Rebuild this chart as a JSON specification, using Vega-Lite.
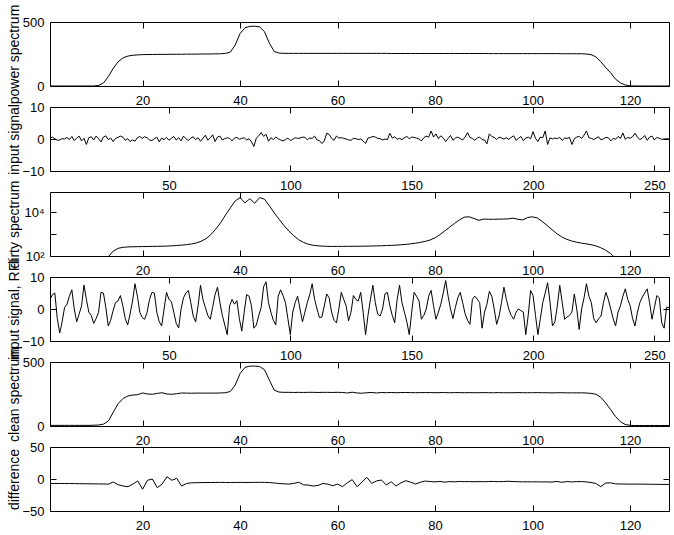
{
  "$schema": "https://vega.github.io/schema/vega-lite/v6.json",
  "padding": {"left": 6, "top": 3, "right": 0, "bottom": 0},
  "spacing": 21,
  "bounds": "flush",
  "datasets": {
    "p1": [{"x":1,"y":0},{"x":2,"y":0},{"x":3,"y":0},{"x":4,"y":0},{"x":5,"y":0},{"x":6,"y":0},{"x":7,"y":0},{"x":8,"y":0},{"x":9,"y":0},{"x":10,"y":0},{"x":11,"y":5},{"x":12,"y":25},{"x":13,"y":75},{"x":14,"y":140},{"x":15,"y":190},{"x":16,"y":220},{"x":17,"y":234},{"x":18,"y":240},{"x":19,"y":243},{"x":20,"y":245},{"x":21,"y":246},{"x":22,"y":246},{"x":23,"y":247},{"x":24,"y":247},{"x":25,"y":247},{"x":26,"y":248},{"x":27,"y":248},{"x":28,"y":248},{"x":29,"y":249},{"x":30,"y":249},{"x":31,"y":249},{"x":32,"y":250},{"x":33,"y":250},{"x":34,"y":250},{"x":35,"y":251},{"x":36,"y":252},{"x":37,"y":255},{"x":38,"y":265},{"x":39,"y":320},{"x":40,"y":410},{"x":41,"y":455},{"x":42,"y":466},{"x":43,"y":467},{"x":44,"y":462},{"x":45,"y":425},{"x":46,"y":335},{"x":47,"y":270},{"x":48,"y":257},{"x":49,"y":255},{"x":50,"y":255},{"x":51,"y":255},{"x":52,"y":255},{"x":53,"y":255},{"x":54,"y":255},{"x":55,"y":255},{"x":56,"y":255},{"x":57,"y":255},{"x":58,"y":255},{"x":59,"y":255},{"x":60,"y":255},{"x":61,"y":255},{"x":62,"y":255},{"x":63,"y":255},{"x":64,"y":255},{"x":65,"y":255},{"x":66,"y":255},{"x":67,"y":255},{"x":68,"y":255},{"x":69,"y":255},{"x":70,"y":255},{"x":71,"y":254},{"x":72,"y":254},{"x":73,"y":254},{"x":74,"y":254},{"x":75,"y":254},{"x":76,"y":254},{"x":77,"y":254},{"x":78,"y":254},{"x":79,"y":254},{"x":80,"y":254},{"x":81,"y":254},{"x":82,"y":254},{"x":83,"y":254},{"x":84,"y":254},{"x":85,"y":254},{"x":86,"y":254},{"x":87,"y":254},{"x":88,"y":254},{"x":89,"y":254},{"x":90,"y":254},{"x":91,"y":253},{"x":92,"y":253},{"x":93,"y":253},{"x":94,"y":253},{"x":95,"y":253},{"x":96,"y":253},{"x":97,"y":253},{"x":98,"y":253},{"x":99,"y":253},{"x":100,"y":253},{"x":101,"y":253},{"x":102,"y":253},{"x":103,"y":253},{"x":104,"y":253},{"x":105,"y":253},{"x":106,"y":252},{"x":107,"y":252},{"x":108,"y":252},{"x":109,"y":252},{"x":110,"y":252},{"x":111,"y":250},{"x":112,"y":245},{"x":113,"y":228},{"x":114,"y":190},{"x":115,"y":145},{"x":116,"y":104},{"x":117,"y":55},{"x":118,"y":25},{"x":119,"y":8},{"x":120,"y":1},{"x":121,"y":0},{"x":122,"y":0},{"x":123,"y":0},{"x":124,"y":0},{"x":125,"y":0},{"x":126,"y":0},{"x":127,"y":0},{"x":128,"y":0}],
    "p2": [{"x":1,"y":0.2},{"x":2,"y":0.6},{"x":3,"y":0.1},{"x":4,"y":-0.4},{"x":5,"y":-0.3},{"x":6,"y":0.1},{"x":7,"y":0},{"x":8,"y":0.5},{"x":9,"y":-0.2},{"x":10,"y":0.8},{"x":11,"y":-0.5},{"x":12,"y":0.3},{"x":13,"y":0.9},{"x":14,"y":-0.6},{"x":15,"y":0.2},{"x":16,"y":-1.7},{"x":17,"y":0.4},{"x":18,"y":0.7},{"x":19,"y":-0.3},{"x":20,"y":0.9},{"x":21,"y":0.1},{"x":22,"y":-0.9},{"x":23,"y":0.6},{"x":24,"y":1},{"x":25,"y":-0.2},{"x":26,"y":0.3},{"x":27,"y":-0.8},{"x":28,"y":0.2},{"x":29,"y":0.5},{"x":30,"y":0.9},{"x":31,"y":0.6},{"x":32,"y":-0.4},{"x":33,"y":0.1},{"x":34,"y":-0.8},{"x":35,"y":-0.3},{"x":36,"y":-0.7},{"x":37,"y":0.4},{"x":38,"y":0.8},{"x":39,"y":0.2},{"x":40,"y":0.7},{"x":41,"y":0.4},{"x":42,"y":-0.3},{"x":43,"y":-0.5},{"x":44,"y":0.1},{"x":45,"y":0.6},{"x":46,"y":-0.9},{"x":47,"y":0.3},{"x":48,"y":-0.2},{"x":49,"y":0.5},{"x":50,"y":-0.4},{"x":51,"y":0.2},{"x":52,"y":0.8},{"x":53,"y":-0.3},{"x":54,"y":0.4},{"x":55,"y":-0.6},{"x":56,"y":0.9},{"x":57,"y":0.1},{"x":58,"y":-0.5},{"x":59,"y":0.3},{"x":60,"y":0.7},{"x":61,"y":-0.2},{"x":62,"y":0.4},{"x":63,"y":-0.7},{"x":64,"y":0.2},{"x":65,"y":1.2},{"x":66,"y":-0.4},{"x":67,"y":0.3},{"x":68,"y":1.3},{"x":69,"y":-0.8},{"x":70,"y":0.6},{"x":71,"y":0.9},{"x":72,"y":-0.3},{"x":73,"y":0.1},{"x":74,"y":0.4},{"x":75,"y":0.2},{"x":76,"y":-0.6},{"x":77,"y":0.3},{"x":78,"y":0.5},{"x":79,"y":-0.1},{"x":80,"y":0.2},{"x":81,"y":0.4},{"x":82,"y":-0.3},{"x":83,"y":0.1},{"x":84,"y":-0.9},{"x":85,"y":-2.3},{"x":86,"y":0.3},{"x":87,"y":1},{"x":88,"y":2},{"x":89,"y":0.8},{"x":90,"y":1.5},{"x":91,"y":-0.7},{"x":92,"y":0.4},{"x":93,"y":-0.2},{"x":94,"y":0.6},{"x":95,"y":0.1},{"x":96,"y":-0.3},{"x":97,"y":-0.6},{"x":98,"y":-0.2},{"x":99,"y":0.3},{"x":100,"y":-0.5},{"x":101,"y":-0.1},{"x":102,"y":0.4},{"x":103,"y":0.2},{"x":104,"y":0.3},{"x":105,"y":0.6},{"x":106,"y":0.5},{"x":107,"y":-0.2},{"x":108,"y":0.3},{"x":109,"y":0.2},{"x":110,"y":0.9},{"x":111,"y":-0.3},{"x":112,"y":-0.5},{"x":113,"y":-1.4},{"x":114,"y":-0.6},{"x":115,"y":1.8},{"x":116,"y":1.4},{"x":117,"y":0.2},{"x":118,"y":-0.4},{"x":119,"y":0.9},{"x":120,"y":0.3},{"x":121,"y":0.4},{"x":122,"y":0.2},{"x":123,"y":0},{"x":124,"y":-0.3},{"x":125,"y":-0.4},{"x":126,"y":0.2},{"x":127,"y":0.1},{"x":128,"y":-0.2},{"x":129,"y":0},{"x":130,"y":-0.6},{"x":131,"y":-1.4},{"x":132,"y":0.3},{"x":133,"y":0.5},{"x":134,"y":0.8},{"x":135,"y":0.6},{"x":136,"y":0.2},{"x":137,"y":0.1},{"x":138,"y":-0.3},{"x":139,"y":0},{"x":140,"y":-0.2},{"x":141,"y":1.8},{"x":142,"y":0.3},{"x":143,"y":0.7},{"x":144,"y":-0.1},{"x":145,"y":0.2},{"x":146,"y":-0.2},{"x":147,"y":0.4},{"x":148,"y":0.8},{"x":149,"y":0.1},{"x":150,"y":0.6},{"x":151,"y":0.5},{"x":152,"y":0.3},{"x":153,"y":0},{"x":154,"y":-0.6},{"x":155,"y":0.4},{"x":156,"y":0.9},{"x":157,"y":0.6},{"x":158,"y":2.5},{"x":159,"y":0.6},{"x":160,"y":1.6},{"x":161,"y":0.1},{"x":162,"y":1},{"x":163,"y":0.3},{"x":164,"y":-0.8},{"x":165,"y":0.2},{"x":166,"y":1.1},{"x":167,"y":-0.4},{"x":168,"y":0.3},{"x":169,"y":0.6},{"x":170,"y":0.1},{"x":171,"y":-0.3},{"x":172,"y":0.6},{"x":173,"y":2},{"x":174,"y":0.5},{"x":175,"y":0.2},{"x":176,"y":-0.4},{"x":177,"y":0.3},{"x":178,"y":0.6},{"x":179,"y":-0.2},{"x":180,"y":-0.3},{"x":181,"y":-1.5},{"x":182,"y":1.6},{"x":183,"y":0.8},{"x":184,"y":0.5},{"x":185,"y":-0.2},{"x":186,"y":0.6},{"x":187,"y":0.3},{"x":188,"y":0},{"x":189,"y":0.4},{"x":190,"y":-0.1},{"x":191,"y":0.5},{"x":192,"y":1},{"x":193,"y":-0.4},{"x":194,"y":0.2},{"x":195,"y":0.8},{"x":196,"y":-0.5},{"x":197,"y":0.3},{"x":198,"y":0.6},{"x":199,"y":0.1},{"x":200,"y":2.3},{"x":201,"y":0.2},{"x":202,"y":-0.8},{"x":203,"y":0.6},{"x":204,"y":0.4},{"x":205,"y":2.5},{"x":206,"y":-1.7},{"x":207,"y":0.4},{"x":208,"y":0},{"x":209,"y":0.3},{"x":210,"y":0.1},{"x":211,"y":0.5},{"x":212,"y":-0.4},{"x":213,"y":0.3},{"x":214,"y":0.2},{"x":215,"y":0.5},{"x":216,"y":-1.7},{"x":217,"y":0.1},{"x":218,"y":0.6},{"x":219,"y":0.8},{"x":220,"y":0.2},{"x":221,"y":1.2},{"x":222,"y":2.5},{"x":223,"y":0.4},{"x":224,"y":0.2},{"x":225,"y":-0.2},{"x":226,"y":0.3},{"x":227,"y":0.7},{"x":228,"y":-0.3},{"x":229,"y":0.1},{"x":230,"y":0.5},{"x":231,"y":0.4},{"x":232,"y":-0.6},{"x":233,"y":0.2},{"x":234,"y":-0.1},{"x":235,"y":0.8},{"x":236,"y":0.2},{"x":237,"y":1.9},{"x":238,"y":-0.1},{"x":239,"y":0.5},{"x":240,"y":0.2},{"x":241,"y":0.7},{"x":242,"y":1.8},{"x":243,"y":0.6},{"x":244,"y":-0.2},{"x":245,"y":0.3},{"x":246,"y":1.1},{"x":247,"y":-0.4},{"x":248,"y":0.6},{"x":249,"y":0.9},{"x":250,"y":-0.3},{"x":251,"y":0.5},{"x":252,"y":0.2},{"x":253,"y":-0.1},{"x":254,"y":0},{"x":255,"y":0.1},{"x":256,"y":0}],
    "p3": [{"x":1,"y":30},{"x":2,"y":30},{"x":3,"y":30},{"x":4,"y":30},{"x":5,"y":30},{"x":6,"y":30},{"x":7,"y":30},{"x":8,"y":30},{"x":9,"y":30},{"x":10,"y":30},{"x":11,"y":30},{"x":12,"y":30},{"x":13,"y":95},{"x":14,"y":170},{"x":15,"y":225},{"x":16,"y":250},{"x":17,"y":260},{"x":18,"y":265},{"x":19,"y":268},{"x":20,"y":270},{"x":21,"y":272},{"x":22,"y":275},{"x":23,"y":278},{"x":24,"y":280},{"x":25,"y":285},{"x":26,"y":292},{"x":27,"y":302},{"x":28,"y":315},{"x":29,"y":330},{"x":30,"y":355},{"x":31,"y":395},{"x":32,"y":470},{"x":33,"y":620},{"x":34,"y":950},{"x":35,"y":1700},{"x":36,"y":3300},{"x":37,"y":7500},{"x":38,"y":16000},{"x":39,"y":33000},{"x":40,"y":47000},{"x":41,"y":27000},{"x":42,"y":42000},{"x":43,"y":26000},{"x":44,"y":47000},{"x":45,"y":40000},{"x":46,"y":20000},{"x":47,"y":9500},{"x":48,"y":4800},{"x":49,"y":2500},{"x":50,"y":1400},{"x":51,"y":850},{"x":52,"y":560},{"x":53,"y":420},{"x":54,"y":345},{"x":55,"y":310},{"x":56,"y":292},{"x":57,"y":282},{"x":58,"y":276},{"x":59,"y":274},{"x":60,"y":275},{"x":61,"y":276},{"x":62,"y":277},{"x":63,"y":278},{"x":64,"y":279},{"x":65,"y":280},{"x":66,"y":283},{"x":67,"y":286},{"x":68,"y":290},{"x":69,"y":295},{"x":70,"y":300},{"x":71,"y":307},{"x":72,"y":315},{"x":73,"y":326},{"x":74,"y":340},{"x":75,"y":360},{"x":76,"y":385},{"x":77,"y":420},{"x":78,"y":470},{"x":79,"y":540},{"x":80,"y":680},{"x":81,"y":950},{"x":82,"y":1400},{"x":83,"y":2100},{"x":84,"y":3100},{"x":85,"y":4500},{"x":86,"y":6000},{"x":87,"y":6200},{"x":88,"y":5200},{"x":89,"y":4300},{"x":90,"y":4900},{"x":91,"y":4800},{"x":92,"y":4800},{"x":93,"y":4850},{"x":94,"y":4900},{"x":95,"y":5000},{"x":96,"y":5400},{"x":97,"y":4800},{"x":98,"y":4500},{"x":99,"y":5800},{"x":100,"y":6200},{"x":101,"y":5500},{"x":102,"y":3800},{"x":103,"y":2500},{"x":104,"y":1600},{"x":105,"y":1050},{"x":106,"y":750},{"x":107,"y":580},{"x":108,"y":490},{"x":109,"y":430},{"x":110,"y":390},{"x":111,"y":360},{"x":112,"y":330},{"x":113,"y":290},{"x":114,"y":240},{"x":115,"y":185},{"x":116,"y":130},{"x":117,"y":80},{"x":118,"y":30},{"x":119,"y":30},{"x":120,"y":30},{"x":121,"y":30},{"x":122,"y":30},{"x":123,"y":30},{"x":124,"y":30},{"x":125,"y":30},{"x":126,"y":30},{"x":127,"y":30},{"x":128,"y":30}],
    "p4": [{"x":1,"y":3},{"x":2,"y":4.5},{"x":3,"y":5},{"x":4,"y":-3},{"x":5,"y":-7.5},{"x":6,"y":-4},{"x":7,"y":0.5},{"x":8,"y":1.5},{"x":9,"y":4},{"x":10,"y":6},{"x":11,"y":0},{"x":12,"y":-4},{"x":13,"y":-1.6},{"x":14,"y":1},{"x":15,"y":7.5},{"x":16,"y":3},{"x":17,"y":-1},{"x":18,"y":-2},{"x":19,"y":-4.5},{"x":20,"y":-3},{"x":21,"y":-1},{"x":22,"y":5.2},{"x":23,"y":5},{"x":24,"y":0.5},{"x":25,"y":-5.3},{"x":26,"y":-3.5},{"x":27,"y":-0.5},{"x":28,"y":2},{"x":29,"y":2.5},{"x":30,"y":4.2},{"x":31,"y":1},{"x":32,"y":-3},{"x":33,"y":-5},{"x":34,"y":-1.5},{"x":35,"y":2.5},{"x":36,"y":7.9},{"x":37,"y":4},{"x":38,"y":-1},{"x":39,"y":-2.7},{"x":40,"y":-3.2},{"x":41,"y":-1},{"x":42,"y":3},{"x":43,"y":5.2},{"x":44,"y":5},{"x":45,"y":-1},{"x":46,"y":-4},{"x":47,"y":-5.3},{"x":48,"y":0},{"x":49,"y":5.2},{"x":50,"y":3},{"x":51,"y":2.3},{"x":52,"y":-1},{"x":53,"y":-4.5},{"x":54,"y":-5.9},{"x":55,"y":0},{"x":56,"y":3.5},{"x":57,"y":5},{"x":58,"y":5.8},{"x":59,"y":2},{"x":60,"y":-2.2},{"x":61,"y":-4},{"x":62,"y":1},{"x":63,"y":7.4},{"x":64,"y":3},{"x":65,"y":0.5},{"x":66,"y":-2},{"x":67,"y":-3.2},{"x":68,"y":0.5},{"x":69,"y":4.5},{"x":70,"y":6.8},{"x":71,"y":2},{"x":72,"y":-2},{"x":73,"y":-5},{"x":74,"y":-8},{"x":75,"y":1},{"x":76,"y":3},{"x":77,"y":1.5},{"x":78,"y":2.6},{"x":79,"y":-3},{"x":80,"y":-6.9},{"x":81,"y":-1},{"x":82,"y":4.5},{"x":83,"y":4},{"x":84,"y":1},{"x":85,"y":-6},{"x":86,"y":-5},{"x":87,"y":-2},{"x":88,"y":0.5},{"x":89,"y":7},{"x":90,"y":8.5},{"x":91,"y":2},{"x":92,"y":-1},{"x":93,"y":-3.5},{"x":94,"y":-5},{"x":95,"y":4},{"x":96,"y":6},{"x":97,"y":4.2},{"x":98,"y":2},{"x":99,"y":-3},{"x":100,"y":-8},{"x":101,"y":-1},{"x":102,"y":2},{"x":103,"y":4},{"x":104,"y":0},{"x":105,"y":-4},{"x":106,"y":-1},{"x":107,"y":2},{"x":108,"y":4.5},{"x":109,"y":7.9},{"x":110,"y":3},{"x":111,"y":0},{"x":112,"y":-2.7},{"x":113,"y":-2.5},{"x":114,"y":1},{"x":115,"y":4.7},{"x":116,"y":3.5},{"x":117,"y":-1},{"x":118,"y":-3.5},{"x":119,"y":-4.3},{"x":120,"y":0},{"x":121,"y":5.2},{"x":122,"y":3},{"x":123,"y":1},{"x":124,"y":-3.7},{"x":125,"y":-1},{"x":126,"y":4.2},{"x":127,"y":3},{"x":128,"y":2.5},{"x":129,"y":5.2},{"x":130,"y":-1},{"x":131,"y":-8},{"x":132,"y":-2},{"x":133,"y":3},{"x":134,"y":7.4},{"x":135,"y":2},{"x":136,"y":-1.6},{"x":137,"y":-2.2},{"x":138,"y":0},{"x":139,"y":4.7},{"x":140,"y":5.2},{"x":141,"y":1},{"x":142,"y":-2},{"x":143,"y":-4.3},{"x":144,"y":3},{"x":145,"y":7.4},{"x":146,"y":2},{"x":147,"y":-1},{"x":148,"y":-4},{"x":149,"y":-8},{"x":150,"y":-1},{"x":151,"y":5.2},{"x":152,"y":4},{"x":153,"y":2.6},{"x":154,"y":-3.2},{"x":155,"y":-2},{"x":156,"y":0},{"x":157,"y":4},{"x":158,"y":5.8},{"x":159,"y":1},{"x":160,"y":-3.2},{"x":161,"y":-1},{"x":162,"y":1.5},{"x":163,"y":5},{"x":164,"y":8.9},{"x":165,"y":4},{"x":166,"y":0},{"x":167,"y":-3},{"x":168,"y":0.5},{"x":169,"y":3.5},{"x":170,"y":5.2},{"x":171,"y":2},{"x":172,"y":-1.5},{"x":173,"y":-3.5},{"x":174,"y":-4.8},{"x":175,"y":3},{"x":176,"y":4},{"x":177,"y":3.1},{"x":178,"y":2},{"x":179,"y":-6},{"x":180,"y":-1},{"x":181,"y":1.5},{"x":182,"y":5.5},{"x":183,"y":4},{"x":184,"y":0},{"x":185,"y":-4.8},{"x":186,"y":-2.2},{"x":187,"y":2},{"x":188,"y":6.8},{"x":189,"y":3},{"x":190,"y":0},{"x":191,"y":-2},{"x":192,"y":-3.2},{"x":193,"y":-1},{"x":194,"y":0},{"x":195,"y":-0.5},{"x":196,"y":-1},{"x":197,"y":-8},{"x":198,"y":-2},{"x":199,"y":5.8},{"x":200,"y":4.2},{"x":201,"y":-2},{"x":202,"y":-8},{"x":203,"y":-3},{"x":204,"y":2},{"x":205,"y":5},{"x":206,"y":8.2},{"x":207,"y":2},{"x":208,"y":-5.3},{"x":209,"y":-4},{"x":210,"y":1},{"x":211,"y":7.4},{"x":212,"y":2},{"x":213,"y":-3.2},{"x":214,"y":-2.5},{"x":215,"y":-2},{"x":216,"y":-1},{"x":217,"y":4.7},{"x":218,"y":0},{"x":219,"y":-6.4},{"x":220,"y":0},{"x":221,"y":3.5},{"x":222,"y":7.9},{"x":223,"y":4},{"x":224,"y":2},{"x":225,"y":-3},{"x":226,"y":-4.3},{"x":227,"y":-3},{"x":228,"y":-2.2},{"x":229,"y":2},{"x":230,"y":5.2},{"x":231,"y":3},{"x":232,"y":0},{"x":233,"y":-3},{"x":234,"y":-5.3},{"x":235,"y":-1},{"x":236,"y":1},{"x":237,"y":4},{"x":238,"y":6.3},{"x":239,"y":3},{"x":240,"y":1},{"x":241,"y":-3},{"x":242,"y":-5.3},{"x":243,"y":-1},{"x":244,"y":2},{"x":245,"y":3.7},{"x":246,"y":5},{"x":247,"y":6.3},{"x":248,"y":2},{"x":249,"y":-3.2},{"x":250,"y":0.5},{"x":251,"y":4.2},{"x":252,"y":3.5},{"x":253,"y":-4.3},{"x":254,"y":-6},{"x":255,"y":0.5},{"x":256,"y":0.5}],
    "p5": [{"x":1,"y":5},{"x":2,"y":5},{"x":3,"y":5},{"x":4,"y":5},{"x":5,"y":5},{"x":6,"y":5},{"x":7,"y":5},{"x":8,"y":5},{"x":9,"y":5},{"x":10,"y":6},{"x":11,"y":8},{"x":12,"y":15},{"x":13,"y":40},{"x":14,"y":110},{"x":15,"y":175},{"x":16,"y":215},{"x":17,"y":235},{"x":18,"y":242},{"x":19,"y":245},{"x":20,"y":258},{"x":21,"y":250},{"x":22,"y":248},{"x":23,"y":255},{"x":24,"y":260},{"x":25,"y":250},{"x":26,"y":248},{"x":27,"y":252},{"x":28,"y":258},{"x":29,"y":257},{"x":30,"y":256},{"x":31,"y":257},{"x":32,"y":257},{"x":33,"y":257},{"x":34,"y":257},{"x":35,"y":257},{"x":36,"y":258},{"x":37,"y":260},{"x":38,"y":270},{"x":39,"y":320},{"x":40,"y":410},{"x":41,"y":458},{"x":42,"y":468},{"x":43,"y":468},{"x":44,"y":465},{"x":45,"y":440},{"x":46,"y":360},{"x":47,"y":280},{"x":48,"y":265},{"x":49,"y":263},{"x":50,"y":263},{"x":51,"y":262},{"x":52,"y":263},{"x":53,"y":262},{"x":54,"y":263},{"x":55,"y":263},{"x":56,"y":262},{"x":57,"y":263},{"x":58,"y":263},{"x":59,"y":262},{"x":60,"y":263},{"x":61,"y":262},{"x":62,"y":258},{"x":63,"y":264},{"x":64,"y":258},{"x":65,"y":256},{"x":66,"y":260},{"x":67,"y":262},{"x":68,"y":258},{"x":69,"y":262},{"x":70,"y":260},{"x":71,"y":262},{"x":72,"y":260},{"x":73,"y":261},{"x":74,"y":262},{"x":75,"y":261},{"x":76,"y":260},{"x":77,"y":261},{"x":78,"y":261},{"x":79,"y":261},{"x":80,"y":260},{"x":81,"y":261},{"x":82,"y":261},{"x":83,"y":260},{"x":84,"y":261},{"x":85,"y":261},{"x":86,"y":260},{"x":87,"y":261},{"x":88,"y":260},{"x":89,"y":260},{"x":90,"y":261},{"x":91,"y":260},{"x":92,"y":260},{"x":93,"y":261},{"x":94,"y":260},{"x":95,"y":260},{"x":96,"y":260},{"x":97,"y":261},{"x":98,"y":260},{"x":99,"y":260},{"x":100,"y":260},{"x":101,"y":261},{"x":102,"y":260},{"x":103,"y":260},{"x":104,"y":259},{"x":105,"y":260},{"x":106,"y":260},{"x":107,"y":259},{"x":108,"y":259},{"x":109,"y":259},{"x":110,"y":259},{"x":111,"y":258},{"x":112,"y":255},{"x":113,"y":248},{"x":114,"y":225},{"x":115,"y":180},{"x":116,"y":130},{"x":117,"y":75},{"x":118,"y":35},{"x":119,"y":12},{"x":120,"y":5},{"x":121,"y":4},{"x":122,"y":4},{"x":123,"y":4},{"x":124,"y":4},{"x":125,"y":4},{"x":126,"y":4},{"x":127,"y":4},{"x":128,"y":4}],
    "p6": [{"x":1,"y":-7},{"x":2,"y":-7},{"x":3,"y":-7},{"x":4,"y":-7.1},{"x":5,"y":-7.1},{"x":6,"y":-7.2},{"x":7,"y":-7.3},{"x":8,"y":-7.4},{"x":9,"y":-7.5},{"x":10,"y":-7.6},{"x":11,"y":-7.7},{"x":12,"y":-7.8},{"x":13,"y":-8},{"x":14,"y":-4.7},{"x":15,"y":-9},{"x":16,"y":-11},{"x":17,"y":-12},{"x":18,"y":-8},{"x":19,"y":-3},{"x":20,"y":-16},{"x":21,"y":-2},{"x":22,"y":0},{"x":23,"y":-13.5},{"x":24,"y":-8},{"x":25,"y":3.6},{"x":26,"y":-2},{"x":27,"y":1},{"x":28,"y":-11},{"x":29,"y":-7},{"x":30,"y":-6},{"x":31,"y":-5.8},{"x":32,"y":-5.6},{"x":33,"y":-5.5},{"x":34,"y":-5.5},{"x":35,"y":-5.4},{"x":36,"y":-5.3},{"x":37,"y":-5.4},{"x":38,"y":-5.5},{"x":39,"y":-5.4},{"x":40,"y":-5.3},{"x":41,"y":-5.4},{"x":42,"y":-5.4},{"x":43,"y":-5.3},{"x":44,"y":-5.2},{"x":45,"y":-5.3},{"x":46,"y":-5.6},{"x":47,"y":-6.2},{"x":48,"y":-7},{"x":49,"y":-7.5},{"x":50,"y":-8},{"x":51,"y":-7},{"x":52,"y":-5},{"x":53,"y":-9},{"x":54,"y":-9.5},{"x":55,"y":-11},{"x":56,"y":-10},{"x":57,"y":-7},{"x":58,"y":-8},{"x":59,"y":-10.5},{"x":60,"y":-7.9},{"x":61,"y":-12},{"x":62,"y":-6},{"x":63,"y":-1},{"x":64,"y":-12},{"x":65,"y":-5},{"x":66,"y":2.6},{"x":67,"y":-6.8},{"x":68,"y":-3},{"x":69,"y":-1.6},{"x":70,"y":-9.4},{"x":71,"y":-4.2},{"x":72,"y":-11},{"x":73,"y":-6},{"x":74,"y":-2.6},{"x":75,"y":-5},{"x":76,"y":-7.9},{"x":77,"y":-5},{"x":78,"y":-3.2},{"x":79,"y":-4},{"x":80,"y":-4.5},{"x":81,"y":-3.8},{"x":82,"y":-5},{"x":83,"y":-4},{"x":84,"y":-4.5},{"x":85,"y":-3.8},{"x":86,"y":-4.2},{"x":87,"y":-4},{"x":88,"y":-4.3},{"x":89,"y":-4.1},{"x":90,"y":-4.2},{"x":91,"y":-4},{"x":92,"y":-3.8},{"x":93,"y":-4.2},{"x":94,"y":-4},{"x":95,"y":-3.5},{"x":96,"y":-4},{"x":97,"y":-4.2},{"x":98,"y":-4.5},{"x":99,"y":-4.3},{"x":100,"y":-4.5},{"x":101,"y":-4.4},{"x":102,"y":-4.6},{"x":103,"y":-4.5},{"x":104,"y":-4.8},{"x":105,"y":-3.8},{"x":106,"y":-5.2},{"x":107,"y":-4},{"x":108,"y":-4.5},{"x":109,"y":-4.2},{"x":110,"y":-4},{"x":111,"y":-4.5},{"x":112,"y":-5.5},{"x":113,"y":-7},{"x":114,"y":-12},{"x":115,"y":-6.3},{"x":116,"y":-6},{"x":117,"y":-7.5},{"x":118,"y":-7.8},{"x":119,"y":-7.9},{"x":120,"y":-8},{"x":121,"y":-8},{"x":122,"y":-8},{"x":123,"y":-8.1},{"x":124,"y":-8.2},{"x":125,"y":-8.3},{"x":126,"y":-8.4},{"x":127,"y":-8.5},{"x":128,"y":-8.5}]
  },
  "vconcat": [
    {
      "width": 619, "height": 64,
      "data": {"name": "p1"},
      "resolve": {"axis": {"x": "independent", "y": "independent"}},
      "layer": [
        {"mark": {"type": "line", "color": "black", "strokeWidth": 1, "clip": true},
         "encoding": {
           "x": {"field": "x", "type": "quantitative", "scale": {"domain": [1, 128], "nice": false, "zero": false}, "axis": {"orient": "bottom", "values": [20, 40, 60, 80, 100, 120], "title": null}},
           "y": {"field": "y", "type": "quantitative", "scale": {"domain": [0, 500], "nice": false, "zero": false}, "axis": {"orient": "left", "values": [0, 500], "title": "power spectrum"}}
         }},
        {"mark": {"type": "line", "opacity": 0},
         "encoding": {
           "x": {"field": "x", "type": "quantitative", "axis": {"orient": "top", "values": [20, 40, 60, 80, 100, 120], "labels": false, "title": null}},
           "y": {"field": "y", "type": "quantitative", "axis": {"orient": "right", "values": [0, 500], "labels": false, "title": null}}
         }}
      ]
    },
    {
      "width": 619, "height": 64,
      "data": {"name": "p2"},
      "resolve": {"axis": {"x": "independent", "y": "independent"}},
      "layer": [
        {"mark": {"type": "line", "color": "black", "strokeWidth": 1, "clip": true},
         "encoding": {
           "x": {"field": "x", "type": "quantitative", "scale": {"domain": [1, 256], "nice": false, "zero": false}, "axis": {"orient": "bottom", "values": [50, 100, 150, 200, 250], "title": null}},
           "y": {"field": "y", "type": "quantitative", "scale": {"domain": [-10, 10], "nice": false, "zero": false}, "axis": {"orient": "left", "values": [-10, 0, 10], "title": "input signal"}}
         }},
        {"mark": {"type": "line", "opacity": 0},
         "encoding": {
           "x": {"field": "x", "type": "quantitative", "axis": {"orient": "top", "values": [50, 100, 150, 200, 250], "labels": false, "title": null}},
           "y": {"field": "y", "type": "quantitative", "axis": {"orient": "right", "values": [-10, 0, 10], "labels": false, "title": null}}
         }}
      ]
    },
    {
      "width": 619, "height": 64,
      "data": {"name": "p3"},
      "resolve": {"axis": {"x": "independent", "y": "independent"}},
      "layer": [
        {"mark": {"type": "line", "color": "black", "strokeWidth": 1, "clip": true},
         "encoding": {
           "x": {"field": "x", "type": "quantitative", "scale": {"domain": [1, 128], "nice": false, "zero": false}, "axis": {"orient": "bottom", "values": [20, 40, 60, 80, 100, 120], "title": null}},
           "y": {"field": "y", "type": "quantitative", "scale": {"type": "log", "domain": [100, 85000], "nice": false}, "axis": {"orient": "left", "values": [100, 1000, 10000], "labelExpr": "datum.value == 100 ? '10²' : (datum.value == 10000 ? '10⁴' : '')", "title": "dirty spectrum"}}
         }},
        {"mark": {"type": "line", "opacity": 0},
         "encoding": {
           "x": {"field": "x", "type": "quantitative", "axis": {"orient": "top", "values": [20, 40, 60, 80, 100, 120], "labels": false, "title": null}},
           "y": {"field": "y", "type": "quantitative", "axis": {"orient": "right", "values": [100, 1000, 10000], "labels": false, "title": null}}
         }}
      ]
    },
    {
      "width": 619, "height": 64,
      "data": {"name": "p4"},
      "resolve": {"axis": {"x": "independent", "y": "independent"}},
      "layer": [
        {"mark": {"type": "line", "color": "black", "strokeWidth": 1, "clip": true},
         "encoding": {
           "x": {"field": "x", "type": "quantitative", "scale": {"domain": [1, 256], "nice": false, "zero": false}, "axis": {"orient": "bottom", "values": [50, 100, 150, 200, 250], "title": null}},
           "y": {"field": "y", "type": "quantitative", "scale": {"domain": [-10, 10], "nice": false, "zero": false}, "axis": {"orient": "left", "values": [-10, 0, 10], "title": "input signal, RFI"}}
         }},
        {"mark": {"type": "line", "opacity": 0},
         "encoding": {
           "x": {"field": "x", "type": "quantitative", "axis": {"orient": "top", "values": [50, 100, 150, 200, 250], "labels": false, "title": null}},
           "y": {"field": "y", "type": "quantitative", "axis": {"orient": "right", "values": [-10, 0, 10], "labels": false, "title": null}}
         }}
      ]
    },
    {
      "width": 619, "height": 64,
      "data": {"name": "p5"},
      "resolve": {"axis": {"x": "independent", "y": "independent"}},
      "layer": [
        {"mark": {"type": "line", "color": "black", "strokeWidth": 1, "clip": true},
         "encoding": {
           "x": {"field": "x", "type": "quantitative", "scale": {"domain": [1, 128], "nice": false, "zero": false}, "axis": {"orient": "bottom", "values": [20, 40, 60, 80, 100, 120], "title": null}},
           "y": {"field": "y", "type": "quantitative", "scale": {"domain": [0, 500], "nice": false, "zero": false}, "axis": {"orient": "left", "values": [0, 500], "title": "clean spectrum"}}
         }},
        {"mark": {"type": "line", "opacity": 0},
         "encoding": {
           "x": {"field": "x", "type": "quantitative", "axis": {"orient": "top", "values": [20, 40, 60, 80, 100, 120], "labels": false, "title": null}},
           "y": {"field": "y", "type": "quantitative", "axis": {"orient": "right", "values": [0, 500], "labels": false, "title": null}}
         }}
      ]
    },
    {
      "width": 619, "height": 64,
      "data": {"name": "p6"},
      "resolve": {"axis": {"x": "independent", "y": "independent"}},
      "layer": [
        {"mark": {"type": "line", "color": "black", "strokeWidth": 1, "clip": true},
         "encoding": {
           "x": {"field": "x", "type": "quantitative", "scale": {"domain": [1, 128], "nice": false, "zero": false}, "axis": {"orient": "bottom", "values": [20, 40, 60, 80, 100, 120], "title": null}},
           "y": {"field": "y", "type": "quantitative", "scale": {"domain": [-50, 50], "nice": false, "zero": false}, "axis": {"orient": "left", "values": [-50, 0, 50], "title": "difference"}}
         }},
        {"mark": {"type": "line", "opacity": 0},
         "encoding": {
           "x": {"field": "x", "type": "quantitative", "axis": {"orient": "top", "values": [20, 40, 60, 80, 100, 120], "labels": false, "title": null}},
           "y": {"field": "y", "type": "quantitative", "axis": {"orient": "right", "values": [-50, 0, 50], "labels": false, "title": null}}
         }}
      ]
    }
  ],
  "config": {
    "font": "Liberation Sans",
    "background": "white",
    "view": {"stroke": "black", "strokeWidth": 1},
    "axis": {"grid": false, "domain": false, "ticks": true, "tickColor": "black", "tickSize": -6, "tickWidth": 1, "labelColor": "black", "labelFontSize": 13, "labelFont": "Liberation Sans", "titleFont": "Liberation Sans", "titleFontSize": 14, "titleFontWeight": "normal", "titleColor": "black", "labelFlush": false, "labelOverlap": false},
    "axisBottom": {"labelPadding": 14},
    "axisLeft": {"labelPadding": 12, "titleX": -32, "titleY": 32, "titleAngle": -90, "titleAlign": "center", "titleBaseline": "alphabetic"}
  }
}
